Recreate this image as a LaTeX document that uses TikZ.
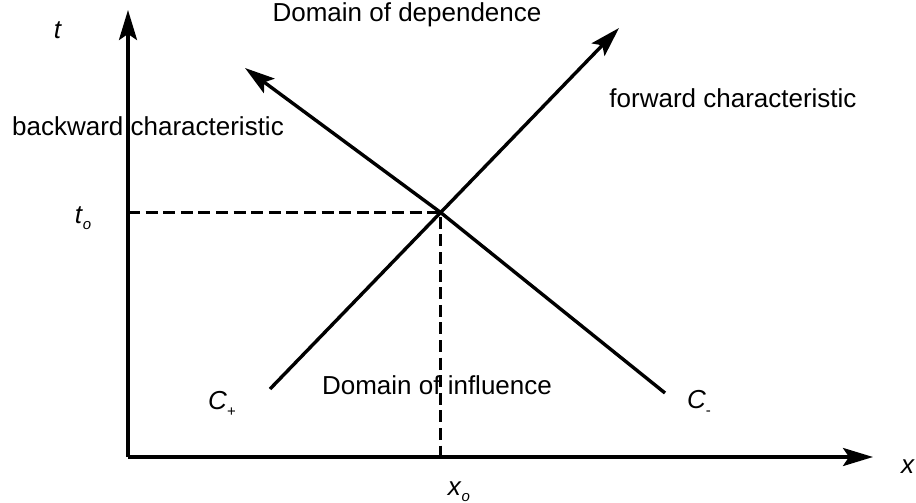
\documentclass[tikz,border=0pt]{standalone}
\usepackage{fontspec}
\setmainfont{Liberation Sans}
\usetikzlibrary{arrows.meta}
\newcommand{\lowsub}[1]{\raisebox{-0.45ex}{\fontsize{7.5}{7.5}\selectfont #1}}
\tikzset{
  axisline/.style={line width=1.7pt, -{Stealth[length=15pt, width=9pt, inset=3pt]}},
  charline/.style={line width=1.7pt},
  guideline/.style={line width=1.5pt, dash pattern=on 6pt off 2.8pt},
  lbl/.style={inner sep=0pt, font=\fontsize{13}{15}\selectfont},
}

\begin{document}
\begin{tikzpicture}[x=0.5pt, y=-0.5pt]
  \useasboundingbox (0,0) rectangle (916,503);
  \coordinate (O) at (128,457);
  \coordinate (tTop) at (128,10);
  \coordinate (xEnd) at (873,457);
  \coordinate (P) at (440,212);
  \coordinate (fStart) at (270,389);
  \coordinate (fTip) at (619,28);
  \coordinate (bStart) at (665,393);
  \coordinate (bTip) at (245,68);
  % axes
  \draw[axisline] (O) -- (tTop);
  \draw[axisline] (O) -- (xEnd);
  % characteristics
  \draw[charline, axisline] (fStart) -- (fTip);
  \draw[charline, axisline] (bStart) -- (P) -- (bTip);
  % guides to the point
  \draw[guideline] (O |- P) -- (P) -- (P |- O);
  % labels
  \node[lbl] (tlab) at (58,30) {\textit{t}};
  \node[lbl] (xlab) at (908,467) {\textit{x}};
  \node[lbl] (tolab) at (83,218) {\textit{t}\lowsub{\textit{o}}};
  \node[lbl] (xolab) at (459,492) {\textit{x}\lowsub{\textit{o}}};
  \node[lbl] (cplus) at (222,404) {\textit{C}\lowsub{+}};
  \node[lbl] (cminus) at (699,403) {\textit{C}\lowsub{-}};
  \node[lbl] (dep) at (407,15) {Domain of dependence};
  \node[lbl] (infl) at (437,385) {Domain of influence};
  \node[lbl] (fwd) at (733,98) {forward characteristic};
  \node[lbl] (bwd) at (148,126) {backward characteristic};
\end{tikzpicture}
\end{document}
